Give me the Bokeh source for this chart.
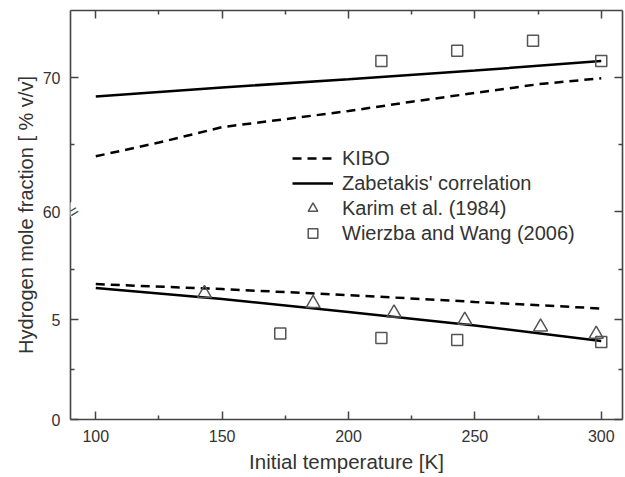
from bokeh.plotting import figure
from bokeh.models import (Range1d, LinearAxis, FixedTicker, CustomJSTickFormatter,
                          Legend, LegendItem, Label, Title)
from bokeh.embed import file_html
from bokeh.resources import INLINE

# ---------------- data ----------------
line_T = [100, 150, 200, 250, 300]
kibo_T_upper = [100, 125, 150, 175, 200, 225, 250, 275, 300]
kibo_upper = [64.13, 65.15, 66.3, 66.9, 67.5, 68.2, 68.85, 69.5, 69.95]
zab_upper = [68.59, 69.26, 69.88, 70.52, 71.24]
kibo_lower = [6.77, 6.52, 6.22, 5.88, 5.55]
zab_lower = [6.58, 6.02, 5.38, 4.70, 3.93]
karim_T = [143, 186, 218, 246, 276, 298]
karim_val = [6.30, 5.80, 5.33, 4.97, 4.63, 4.27]
wier_T_upper = [213, 243, 273, 300]
wier_upper = [71.24, 72.0, 72.75, 71.24]
wier_T_lower = [173, 213, 243, 300]
wier_lower = [4.30, 4.08, 3.97, 3.88]

x_ticks = [100, 150, 200, 250, 300]
x_minor = [125, 175, 225, 275]
lower_ticks = [0, 5]
lower_minor = [2.5, 7.5]
upper_ticks = [60, 70]
upper_minor = [65]
legend_labels = ["KIBO", "Zabetakis' correlation", "Karim et al. (1984)", "Wierzba and Wang (2006)"]
x_title = "Initial temperature [K]"
y_title = "Hydrogen mole fraction [ % v/v]"

# ---------------- layout constants ----------------
LOW = (0.0, 20.45)     # lower (main) y range
UP = (44.5, 75.0)      # upper (extra) y range
XR = (90.0, 308.4)
FONT = "Liberation Sans"
AX = "#444444"
TXT = "#333333"


def lower_pos(v):
    return LOW[0] + (v - UP[0]) / (UP[1] - UP[0]) * (LOW[1] - LOW[0])


brk = lower_pos(upper_ticks[0])

p = figure(frame_width=552, frame_height=409, x_range=Range1d(*XR), y_range=Range1d(*LOW),
           output_backend="svg", toolbar_location=None, x_axis_type=None, y_axis_type=None,
           min_border_left=70, min_border_right=2, min_border_top=10, min_border_bottom=58)
p.extra_y_ranges = {"upper": Range1d(*UP)}
p.grid.visible = False
p.outline_line_color = None
p.background_fill_color = "white"
p.border_fill_color = "white"

y_ticker = FixedTicker(ticks=lower_ticks + [lower_pos(v) for v in upper_ticks],
                       minor_ticks=lower_minor + [lower_pos(v) for v in upper_minor])
x_ticker = FixedTicker(ticks=x_ticks, minor_ticks=x_minor)

fmt = CustomJSTickFormatter(args=dict(brk=brk, l0=LOW[0], l1=LOW[1], u0=UP[0], u1=UP[1]), code="""
if (tick > brk - 0.01) { return (u0 + (tick - l0) / (l1 - l0) * (u1 - u0)).toFixed(0); }
return tick.toFixed(0);
""")
blank = CustomJSTickFormatter(code="return '';")


def style(ax, labels=True):
    ax.axis_line_color = AX
    ax.axis_line_width = 1.6
    ax.major_tick_line_color = AX
    ax.major_tick_line_width = 1.5
    ax.minor_tick_line_color = AX
    ax.minor_tick_line_width = 1.5
    ax.major_tick_in = 8
    ax.major_tick_out = 0
    ax.minor_tick_in = 4
    ax.minor_tick_out = 0
    ax.major_label_text_font = FONT
    ax.major_label_text_font_size = "16px"
    ax.major_label_text_color = TXT
    ax.axis_label_text_font = FONT
    ax.axis_label_text_font_style = "normal"
    ax.axis_label_text_color = TXT
    if not labels:
        ax.major_label_text_font_size = "0px"
        ax.major_label_standoff = 0


left = LinearAxis(ticker=y_ticker, formatter=fmt)
style(left)
left.major_label_standoff = 10
p.add_layout(left, "left")

p.add_layout(Title(text=y_title, align="center", offset=-15, standoff=6, text_font=FONT,
                   text_font_size="20px", text_font_style="normal", text_color=TXT), "left")

right = LinearAxis(ticker=y_ticker, formatter=blank)
style(right, labels=False)
p.add_layout(right, "right")

bottom = LinearAxis(ticker=x_ticker, axis_label=x_title)
style(bottom)
bottom.major_label_standoff = 10
bottom.axis_label_text_font_size = "20.5px"
bottom.axis_label_standoff = 5
p.add_layout(bottom, "below")

top = LinearAxis(ticker=x_ticker, formatter=blank)
style(top, labels=False)
p.add_layout(top, "above")

# ---------------- series ----------------
LW = 2.5
r_kibo_up = p.line(kibo_T_upper, kibo_upper, y_range_name="upper", line_color="black",
                   line_width=LW, line_dash="9 6")
p.line(line_T, kibo_lower, line_color="black", line_width=LW, line_dash="9 6")
r_zab_up = p.line(line_T, zab_upper, y_range_name="upper", line_color="black", line_width=LW)
p.line(line_T, zab_lower, line_color="black", line_width=LW)
r_karim = p.scatter(karim_T, karim_val, marker="triangle", size=14, fill_color=None,
                    line_color="#555555", line_width=1.5)
r_wier = p.scatter(wier_T_lower, wier_lower, marker="square", size=11, fill_color=None,
                   line_color="#555555", line_width=1.5)
p.scatter(wier_T_upper, wier_upper, y_range_name="upper", marker="square", size=11,
          fill_color=None, line_color="#555555", line_width=1.5)

# ---------------- axis break mark ----------------
p.add_layout(Label(x=XR[0], y=brk, x_offset=3, text="=", angle=0.55, text_align="center",
                   text_baseline="middle", text_font=FONT, text_font_size="17px",
                   text_color=AX, background_fill_color="white"))

legend = Legend(items=[LegendItem(label=legend_labels[0], renderers=[r_kibo_up]),
                       LegendItem(label=legend_labels[1], renderers=[r_zab_up]),
                       LegendItem(label=legend_labels[2], renderers=[r_karim]),
                       LegendItem(label=legend_labels[3], renderers=[r_wier])],
                location=(222, 174), padding=0, margin=0, spacing=1,
                glyph_width=41, glyph_height=24, label_height=24, label_standoff=9,
                label_text_font=FONT, label_text_font_size="20px", label_text_color=TXT,
                border_line_color=None, background_fill_alpha=0)
p.add_layout(legend, "center")

open("out.html", "w").write(file_html(p, INLINE))
